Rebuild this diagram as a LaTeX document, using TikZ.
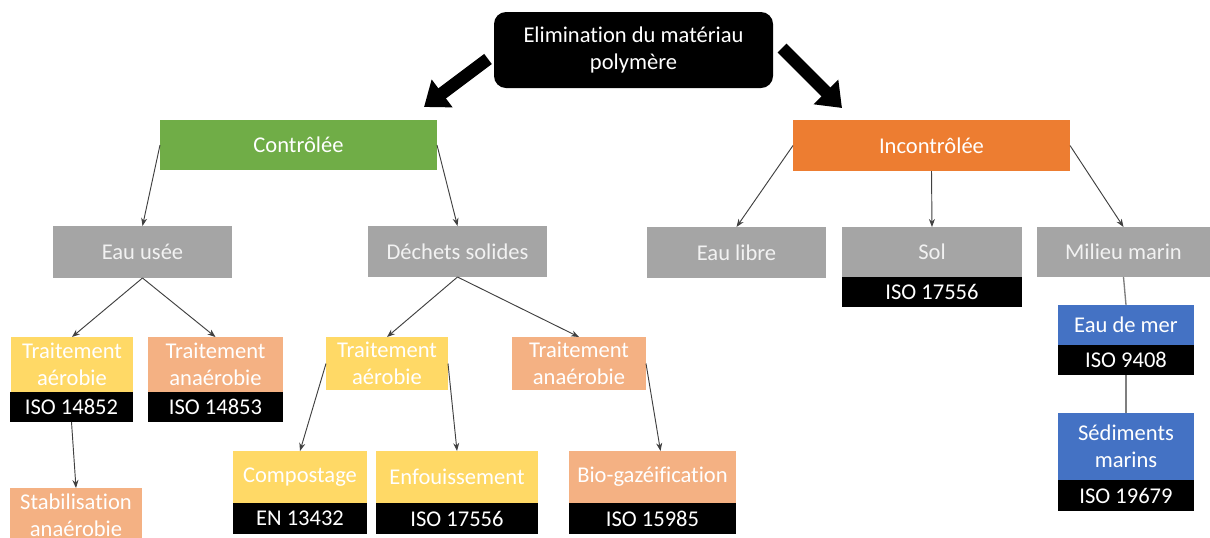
\documentclass[tikz,border=0pt]{standalone}
\usepackage{fontspec}
\setmainfont{Carlito}[Ligatures=NoCommon]
\usetikzlibrary{arrows.meta,calc}
\definecolor{cgreen}{HTML}{70AD47}
\definecolor{corange}{HTML}{ED7D31}
\definecolor{cgray}{HTML}{A5A5A5}
\definecolor{cyellow}{HTML}{FFD966}
\definecolor{csalmon}{HTML}{F4B183}
\definecolor{cblue}{HTML}{4472C4}
\definecolor{cline}{HTML}{404040}
\definecolor{cvline}{HTML}{7F7F7F}
\newcommand\mybox[7]{%
  \node[#6, minimum width={(#4-#2)*0.75pt}, minimum height={(#5-#3)*0.75pt}] (#1) at ({(#2+#4)/2},{(#3+#5)/2}) {#7};}
\tikzset{
  box/.style={inner sep=0pt, outer sep=0pt, text=white, font=\fontsize{16.9}{20}\selectfont, align=center},
  greenbox/.style={box, fill=cgreen},
  orangebox/.style={box, fill=corange},
  graybox/.style={box, fill=cgray, text=white!95!black},
  yellowbox/.style={box, fill=cyellow},
  salmonbox/.style={box, fill=csalmon},
  bluebox/.style={box, fill=cblue},
  isobox/.style={box, fill=black},
  topbox/.style={box, fill=black, rounded corners=9pt},
  conn/.style={draw=cline, line width=0.7pt, -{Stealth[length=6pt,width=4.5pt]}},
  vconn/.style={draw=cvline, line width=1pt},
  bigarrow/.style={draw=black, line width=9.5pt, -{Triangle[width=25pt,length=17pt]}}
}
\begin{document}
\begin{tikzpicture}[x=0.75pt,y=-0.75pt]
\useasboundingbox (0,0) rectangle (1210,537);
\clip (0,0) rectangle (1210,537);
\fill[white] (0,0) rectangle (1210,537);
% top
\mybox{top}{494}{12}{773}{88}{topbox}{Elimination du matériau\\polymère}
% level 1
\mybox{ctrl}{160}{120}{437}{170}{greenbox}{Contrôlée}
\mybox{incont}{793}{120}{1070}{171}{orangebox}{Incontrôlée}
% level 2
\mybox{eauusee}{53}{226}{232}{278}{graybox}{Eau usée}
\mybox{dechets}{368}{226}{547}{277}{graybox}{Déchets solides}
\mybox{eaulibre}{647}{227}{826}{278}{graybox}{Eau libre}
\mybox{sol}{842}{227}{1022}{277}{graybox}{Sol}
\mybox{isosol}{842}{277}{1022}{307}{isobox}{ISO 17556}
\mybox{milieu}{1037}{227}{1210}{277}{graybox}{Milieu marin}
% marine
\mybox{eaumer}{1058}{305}{1194}{345}{bluebox}{Eau de mer}
\mybox{iso9408}{1058}{345}{1194}{375}{isobox}{ISO 9408}
\mybox{sediments}{1058}{413}{1194}{480}{bluebox}{Sédiments\\marins}
\mybox{iso19679}{1058}{480}{1194}{511}{isobox}{ISO 19679}
% eau usee children
\mybox{taerA}{11}{337}{133}{392}{yellowbox}{Traitement\\aérobie}
\mybox{iso14852}{10}{392}{133}{422}{isobox}{ISO 14852}
\mybox{tanaA}{148}{337}{283}{392}{salmonbox}{Traitement\\anaérobie}
\mybox{iso14853}{148}{392}{283}{422}{isobox}{ISO 14853}
\mybox{stab}{10}{488}{142}{543}{salmonbox}{Stabilisation\\anaérobie}
% dechets children
\mybox{taerB}{326}{337}{448}{390}{yellowbox}{Traitement\\aérobie}
\mybox{tanaB}{512}{337}{646}{390}{salmonbox}{Traitement\\anaérobie}
\mybox{compost}{233}{451}{367}{503}{yellowbox}{Compostage}
\mybox{en13432}{233}{503}{367}{534}{isobox}{EN 13432}
\mybox{enfouis}{376}{451}{538}{503}{yellowbox}{Enfouissement}
\mybox{iso17556}{376}{503}{538}{534}{isobox}{ISO 17556}
\mybox{bio}{569}{451}{736}{503}{salmonbox}{Bio-gazéification}
\mybox{iso15985}{569}{503}{736}{534}{isobox}{ISO 15985}
% big arrows
\coordinate (lt) at (424,107);
\coordinate (rt) at (842,108);
\draw[bigarrow] ([shift={(-6,9)}]top.west) -- (lt);
\draw[bigarrow] ([shift={(9,-2)}]top.east) -- (rt);
% connectors
\draw[conn] (ctrl.west) -- (eauusee.north);
\draw[conn] (ctrl.east) -- (dechets.north);
\draw[conn] (incont.west) -- (eaulibre.north);
\draw[conn] (incont.south) -- (sol.north);
\draw[conn] (incont.east) -- (milieu.north);
\draw[conn] (eauusee.south) -- (taerA.north);
\draw[conn] (eauusee.south) -- (tanaA.north);
\draw[conn] (iso14852.south) -- (stab.north);
\draw[conn] (dechets.south) -- (taerB.north);
\draw[conn] (dechets.south) -- (tanaB.north);
\draw[conn] (taerB.west) -- (compost.north);
\draw[conn] (taerB.east) -- (enfouis.north);
\draw[conn] (tanaB.east) -- ([xshift=6]bio.north);
\draw[vconn] (milieu.south) -- (eaumer.north);
\draw[vconn] (iso9408.south) -- (sediments.north);
\end{tikzpicture}
\end{document}
